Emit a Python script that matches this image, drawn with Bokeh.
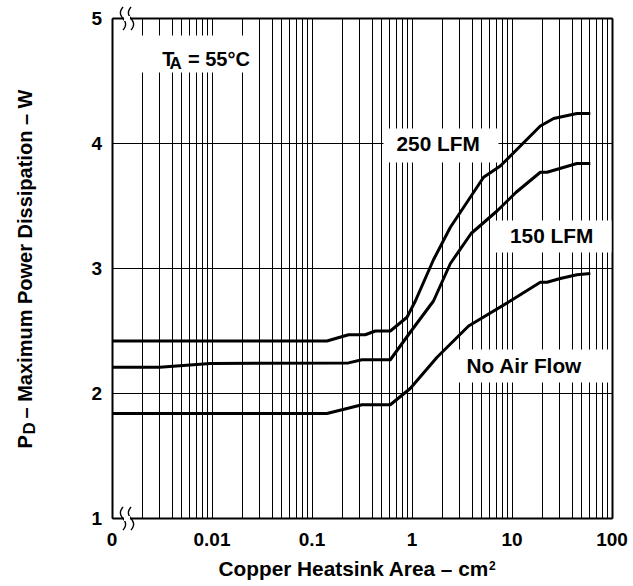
import math
from bokeh.plotting import figure
from bokeh.models import (FixedTicker, CustomJSTickFormatter, Label, BoxAnnotation,
                          LinearAxis, LogAxis, Range1d, Grid)
from bokeh.embed import file_html
from bokeh.resources import INLINE

# ---------------- data ----------------
area_250 = [0.001, 0.141, 0.232, 0.341, 0.43, 0.607, 0.891, 1.08, 1.64, 2.42, 5.2, 7.64, 19.2, 26.1, 44.6, 60.7]
pd_250 = [2.42, 2.42, 2.47, 2.47, 2.50, 2.50, 2.61, 2.74, 3.07, 3.33, 3.73, 3.82, 4.14, 4.20, 4.24, 4.24]

area_150 = [0.001, 0.003, 0.0096, 0.232, 0.316, 0.607, 0.96, 1.64, 2.42, 3.9, 7.08, 11.0, 19.2, 22.4, 44.6, 60.7]
pd_150 = [2.21, 2.21, 2.24, 2.245, 2.27, 2.27, 2.49, 2.74, 3.04, 3.28, 3.46, 3.61, 3.77, 3.77, 3.84, 3.84]

area_0 = [0.001, 0.141, 0.224, 0.316, 0.607, 0.96, 1.78, 3.68, 9.6, 19.2, 22.4, 30.4, 44.6, 60.7]
pd_0 = [1.84, 1.84, 1.88, 1.91, 1.91, 2.04, 2.29, 2.54, 2.74, 2.89, 2.89, 2.92, 2.95, 2.96]

x_ticks = [0.001, 0.01, 0.1, 1, 10, 100]
x_tick_labels = ["0", "0.01", "0.1", "1", "10", "100"]
y_ticks = [1, 2, 3, 4, 5]

series_labels = ["250 LFM", "150 LFM", "No Air Flow"]

FONT = "Liberation Sans"
W, H = 631, 584

# page pixel -> data helpers (layout / annotation placement only)
X0_PX, PX_PER_DEC = 111.5, 100.0
Y1_PX, PX_PER_UNIT = 518.0, 125.0

def fx(px):
    return 10 ** (-3 + (px - X0_PX) / PX_PER_DEC)

def fy(py):
    return 1 + (Y1_PX - py) / PX_PER_UNIT

XMIN, XMAX = x_ticks[0], x_ticks[-1]
YMIN, YMAX = y_ticks[0], y_ticks[-1]

# the frame covers the whole canvas so that texts outside the data area are not clipped
p = figure(x_axis_type="log", x_range=Range1d(fx(0), fx(W)), y_range=Range1d(fy(H), fy(0)),
           width=W, height=H, min_border=0,
           min_border_left=0, min_border_right=0, min_border_top=0, min_border_bottom=0,
           output_backend="svg", toolbar_location=None,
           background_fill_color="white", border_fill_color="white")
p.outline_line_color = None

minor = [d * k for d in x_ticks[:-1] for k in range(2, 10)]
xticker = FixedTicker(ticks=x_ticks, minor_ticks=minor)
yticker = FixedTicker(ticks=y_ticks)

xa = p.xaxis[0]
ya = p.yaxis[0]
xa.ticker = xticker
ya.ticker = yticker
xa.fixed_location = YMIN
ya.fixed_location = XMIN
xa.bounds = (XMIN, XMAX)
ya.bounds = (YMIN, YMAX)
xa.formatter = CustomJSTickFormatter(args=dict(vals=x_ticks, labs=x_tick_labels), code="""
let best = 0, bd = Infinity;
for (let i = 0; i < vals.length; i++) {
  const d = Math.abs(Math.log10(tick) - Math.log10(vals[i]));
  if (d < bd) { bd = d; best = i; }
}
return labs[best];
""")

for ax in (xa, ya):
    ax.major_tick_line_color = None
    ax.minor_tick_line_color = None
    ax.axis_line_color = "black"
    ax.axis_line_width = 2
    ax.major_label_text_font = FONT
    ax.major_label_text_font_style = "bold"
    ax.major_label_text_font_size = "19px"
    ax.major_label_text_color = "black"
xa.major_label_standoff = 8
ya.major_label_standoff = 4

# top / right frame lines
top_ax = LogAxis(ticker=FixedTicker(ticks=[]), fixed_location=YMAX, bounds=(XMIN, XMAX),
                 axis_line_width=2, axis_line_color="black",
                 major_tick_line_color=None, minor_tick_line_color=None,
                 major_label_text_font_size="0px")
right_ax = LinearAxis(ticker=FixedTicker(ticks=[]), fixed_location=XMAX, bounds=(YMIN, YMAX),
                      axis_line_width=2, axis_line_color="black",
                      major_tick_line_color=None, minor_tick_line_color=None,
                      major_label_text_font_size="0px")
p.add_layout(top_ax, "above")
p.add_layout(right_ax, "right")

# grid limited to the data area
has_cross = "cross_bounds" in Grid.properties()
if has_cross:
    p.xgrid.ticker = xticker
    p.xgrid.bounds = (XMIN, XMAX)
    p.xgrid.cross_bounds = (YMIN, YMAX)
    p.ygrid.ticker = yticker
    p.ygrid.bounds = (YMIN, YMAX)
    p.ygrid.cross_bounds = (XMIN, XMAX)
    p.xgrid.grid_line_color = "black"
    p.xgrid.minor_grid_line_color = "black"
    p.ygrid.grid_line_color = "black"
    p.xgrid.grid_line_width = 1
    p.xgrid.minor_grid_line_width = 1
    p.ygrid.grid_line_width = 1
else:
    p.xgrid.visible = False
    p.ygrid.visible = False
    vx = x_ticks[1:-1] + minor
    p.segment(x0=vx, x1=vx, y0=[YMIN] * len(vx), y1=[YMAX] * len(vx), line_color="black", line_width=1)
    hy = y_ticks[1:-1]
    p.segment(x0=[XMIN] * len(hy), x1=[XMAX] * len(hy), y0=hy, y1=hy, line_color="black", line_width=1)

for xs, ys in ((area_250, pd_250), (area_150, pd_150), (area_0, pd_0)):
    p.line(xs, ys, line_color="black", line_width=3, line_join="round")

# white boxes behind labels
boxes = [(136, 258, 35, 72), (383, 498, 128, 162), (495, 611, 220, 252), (457, 608, 349, 382)]
for l, r, t, b in boxes:
    p.add_layout(BoxAnnotation(left=fx(l), right=fx(r), top=fy(t), bottom=fy(b),
                               fill_color="white", fill_alpha=1.0, line_color=None))

BASE_SHIFT = 0.4  # em: rendered baseline sits this much below the anchor

def lab(text, px, py, size=20.0, angle=0.0):
    d = BASE_SHIFT * size
    if angle:
        px = px - d
    else:
        py = py - d
    p.add_layout(Label(x=fx(px), y=fy(py), text=text, text_font=FONT, text_font_style="bold",
                       text_font_size=f"{size}px", text_color="black", text_align="left",
                       text_baseline="alphabetic", angle=angle))

# curve labels
lab(series_labels[0], 396, 151.7, size=20.8)
lab(series_labels[1], 509.5, 243.3, size=20.8)
lab(series_labels[2], 466, 373.3, size=20.8)

# T_A = 55 C
lab("T", 161.7, 66)
lab("A", 169, 69.8, size=17)
lab("= 55\u00b0C", 187.5, 66)

# axis titles
lab("Copper Heatsink Area \u2013 cm", 218, 576.5, size=20.8)
lab("2", 488.5, 570, size=12)
lab("P", 32, 448, angle=math.pi / 2)
lab("D", 36, 434, size=17, angle=math.pi / 2)
lab("\u2013 Maximum Power Dissipation \u2013 W", 32, 418, angle=math.pi / 2)

# axis break marks (two small S-shaped strokes with a gap in the frame line)
ts = [i / 24 for i in range(25)]
for edge in (18, 518):
    p.add_layout(BoxAnnotation(left=fx(123.5), right=fx(129.5), top=fy(edge - 2.5), bottom=fy(edge + 2.5),
                               fill_color="white", fill_alpha=1.0, line_color=None))
    for cx in (122.5, 130.5):
        xs = [fx(cx - 2.6 * math.sin(2 * math.pi * t)) for t in ts]
        ys = [fy(edge - 11.5 + 23 * t) for t in ts]
        p.line(xs, ys, line_color="black", line_width=1.4)

open("out.html", "w").write(file_html(p, INLINE))
